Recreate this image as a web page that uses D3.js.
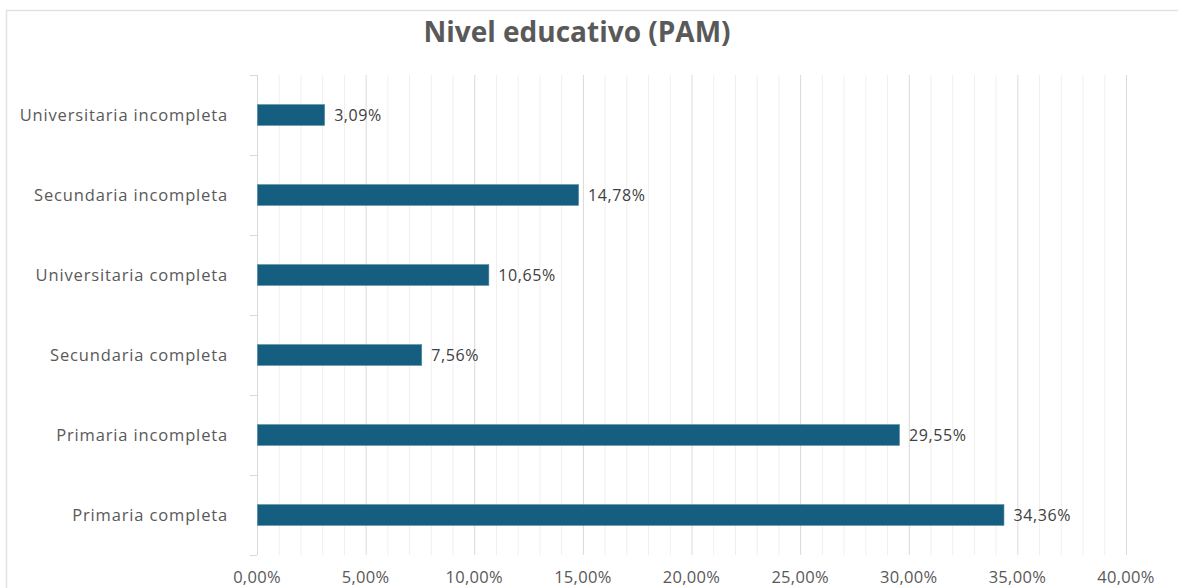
<!DOCTYPE html>
<html>
<head>
<meta charset="utf-8">
<script src="https://cdn.jsdelivr.net/npm/d3@7"></script>
<style>
  body { margin: 0; background: #fff; }
  svg { display: block; font-family: "Open Sans", sans-serif; }
</style>
</head>
<body>
<svg id="chart"></svg>
<script>
const categories = ["Universitaria incompleta", "Secundaria incompleta", "Universitaria completa",
  "Secundaria completa", "Primaria incompleta", "Primaria completa"]
const values = [3.09, 14.78, 10.65, 7.56, 29.55, 34.36]
const majorTicks = [0, 5, 10, 15, 20, 25, 30, 35, 40]
const minorTicks = d3.range(0, 41, 1)

const W = 1178, H = 588
const margin = {top: 75, right: 52, bottom: 33, left: 257}
const width = W - margin.left - margin.right,
    height = H - margin.top - margin.bottom

const fmt = v => v.toFixed(2).replace(".", ",") + "%"

const svg = d3.select("#chart").attr("width", W).attr("height", H)

// outer frame
svg.append("rect")
    .attr("x", 6.5).attr("y", 10.5)
    .attr("width", W + 20).attr("height", H + 20)
    .attr("fill", "none").attr("stroke", "#e3e3e3").attr("stroke-width", 1.5)

svg.append("text")
    .attr("x", 577).attr("y", 42)
    .attr("text-anchor", "middle")
    .style("font-size", "28px").style("font-weight", "bold")
    .attr("fill", "#595959")
    .text("Nivel educativo (PAM)")

const g = svg.append("g").attr("transform", "translate(" + margin.left + "," + margin.top + ")")

const x = d3.scaleLinear().domain([0, 40]).range([0, width])
const y = d3.scaleBand().domain(categories).range([0, height]).paddingInner(0.74).paddingOuter(0.37)

// gridlines
g.selectAll(".minor").data(minorTicks.filter(d => d % 5 != 0)).join("line")
    .attr("x1", d => x(d) + 0.5).attr("x2", d => x(d) + 0.5)
    .attr("y1", 0).attr("y2", height)
    .attr("stroke", "#efefef")
g.selectAll(".major").data(majorTicks.slice(1)).join("line")
    .attr("x1", d => x(d) + 0.5).attr("x2", d => x(d) + 0.5)
    .attr("y1", 0).attr("y2", height)
    .attr("stroke", "#d9d9d9")

// y axis with ticks at band boundaries
const bounds = d3.range(categories.length + 1).map(i => i * height / categories.length)
g.append("line")
    .attr("x1", 0.5).attr("x2", 0.5).attr("y1", 0).attr("y2", height)
    .attr("stroke", "#d9d9d9")
g.selectAll(".ytick").data(bounds).join("line")
    .attr("x1", -7).attr("x2", 0)
    .attr("y1", d => d + 0.5).attr("y2", d => d + 0.5)
    .attr("stroke", "#d9d9d9")

g.selectAll(".ylab").data(categories).join("text")
    .attr("x", -29)
    .attr("y", d => y(d) + y.bandwidth() / 2)
    .attr("dy", "0.35em")
    .attr("text-anchor", "end")
    .style("font-size", "16.5px").style("letter-spacing", "0.85px")
    .attr("fill", "#595959")
    .text(d => d)

// x tick labels
g.selectAll(".xlab").data(majorTicks).join("text")
    .attr("x", d => x(d))
    .attr("y", height + 28)
    .attr("text-anchor", "middle")
    .style("font-size", "16.5px").style("letter-spacing", "0.3px")
    .attr("fill", "#595959")
    .text(d => fmt(d))

// bars
g.selectAll(".bar").data(values).join("rect")
    .attr("x", 0.5)
    .attr("y", (d, i) => y(categories[i]))
    .attr("width", d => x(d))
    .attr("height", y.bandwidth())
    .attr("fill", "#155e80")
    .attr("stroke", "#4f8aa6").attr("stroke-width", 0.6)

g.selectAll(".val").data(values).join("text")
    .attr("x", d => x(d) + 10)
    .attr("y", (d, i) => y(categories[i]) + y.bandwidth() / 2)
    .attr("dy", "0.35em")
    .style("font-size", "16px").style("letter-spacing", "0.6px")
    .attr("fill", "#404040")
    .text(d => fmt(d))
</script>
</body>
</html>
